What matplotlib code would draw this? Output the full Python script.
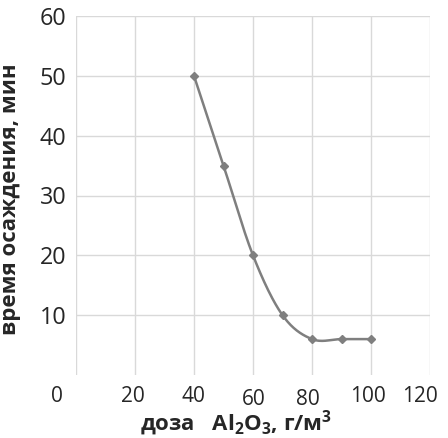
import numpy as np
import matplotlib
matplotlib.use("Agg")
import matplotlib.pyplot as plt
import matplotlib.transforms as mtransforms

plt.rcParams['font.family'] = ['Open Sans', 'DejaVu Sans']
plt.rcParams['mathtext.fontset'] = 'custom'
plt.rcParams['mathtext.rm'] = 'Open Sans:bold'
plt.rcParams['mathtext.bf'] = 'Open Sans:bold'

# data
dose = [40, 50, 60, 70, 80, 90, 100]
settle_time = [50, 35, 20, 10, 6, 6, 6]
x_ticks = [0, 20, 40, 60, 80, 100, 120]
y_ticks = [10, 20, 30, 40, 50, 60]


def smooth(xs, ys, n=30):
    # excel-like smoothed line (cardinal bezier between points)
    xs = np.asarray(xs, float)
    ys = np.asarray(ys, float)
    px, py = [], []
    for i in range(len(xs) - 1):
        x0, y0 = (xs[i - 1], ys[i - 1]) if i > 0 else (xs[i], ys[i])
        x3, y3 = (xs[i + 2], ys[i + 2]) if i + 2 < len(xs) else (xs[i + 1], ys[i + 1])
        c1x = xs[i] + (xs[i + 1] - x0) / 6
        c1y = ys[i] + (ys[i + 1] - y0) / 6
        c2x = xs[i + 1] - (x3 - xs[i]) / 6
        c2y = ys[i + 1] - (y3 - ys[i]) / 6
        t = np.linspace(0, 1, n)
        px.extend((1-t)**3*xs[i] + 3*(1-t)**2*t*c1x + 3*(1-t)*t**2*c2x + t**3*xs[i+1])
        py.extend((1-t)**3*ys[i] + 3*(1-t)**2*t*c1y + 3*(1-t)*t**2*c2y + t**3*ys[i+1])
    return px, py


fig = plt.figure(figsize=(4.48, 4.38), dpi=100)
ax = fig.add_axes([76/448, 1-375/438, 354/448, 359/438])

sx, sy = smooth(dose, settle_time)
ax.plot(sx, sy, color='#7f7f7f', lw=1.8, zorder=3)
ax.plot(dose, settle_time, ls='none', marker='D', ms=4, color='#7f7f7f', zorder=4)

ax.set_xlim(0, 120)
ax.set_ylim(0, 60)
ax.set_xticks(x_ticks)
ax.set_yticks(y_ticks)
ax.grid(True, color='#d9d9d9', lw=1)
for s in ax.spines.values():
    s.set_visible(False)
ax.tick_params(length=0, colors='#262626')
ax.tick_params(axis='x', pad=8, labelsize=15)
ax.tick_params(axis='y', pad=7, labelsize=16.8)

# shift the x tick labels like in the original
shifts = {0: (-19, 0), 20: (-2, 0), 40: (-1, 0), 60: (1, -3), 80: (-4, -3), 100: (-3, 0), 120: (-10, 0)}
for val, lab in zip(x_ticks, ax.get_xticklabels()):
    dx, dy = shifts[val]
    off = mtransforms.ScaledTranslation(dx/100, dy/100, fig.dpi_scale_trans)
    lab.set_transform(lab.get_transform() + off)

ax.set_ylabel('время осаждения, мин', fontsize=16, fontweight='bold', color='#262626')
ax.yaxis.set_label_coords(21/448, 1-199/438, transform=fig.transFigure)
ax.set_xlabel(r'доза   $\mathbf{Al_2O_3}$, г/м$^\mathbf{3}$', fontsize=16,
              fontweight='bold', color='#262626')
ax.xaxis.set_label_coords(236/448, 1-430/438, transform=fig.transFigure)
ax.xaxis.label.set_va('baseline')

fig.savefig('out.png', dpi=100)
